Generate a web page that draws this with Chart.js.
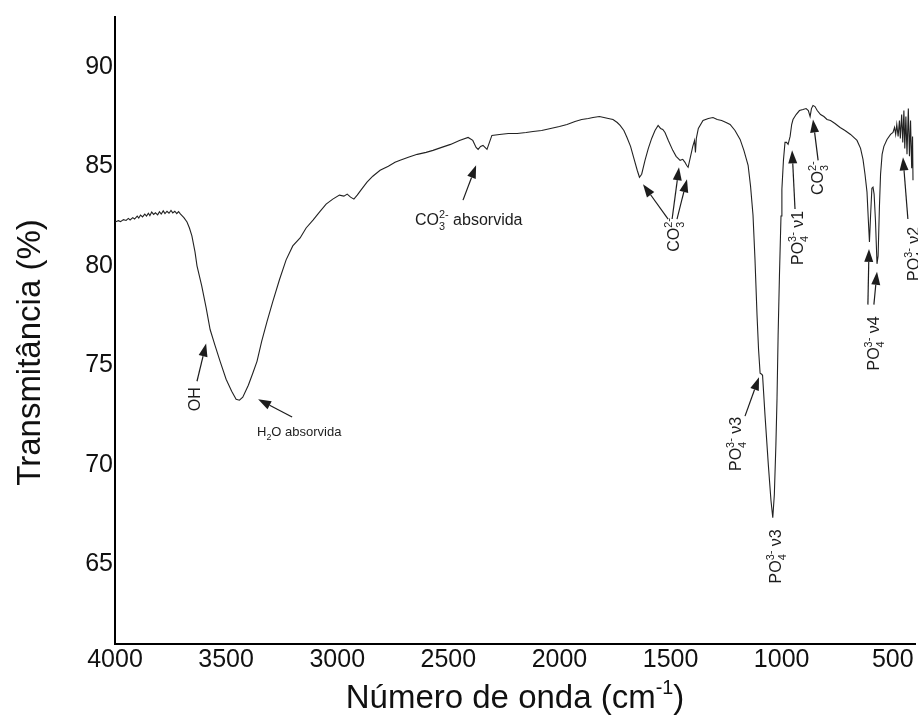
<!DOCTYPE html>
<html>
<head>
<meta charset="utf-8">
<script src="https://cdn.jsdelivr.net/npm/chart.js@4.4.0/dist/chart.umd.min.js"></script>
<style>
  html, body { margin: 0; padding: 0; background: #fff; }
  #wrap { width: 918px; height: 722px; }
</style>
</head>
<body>
<div id="wrap"><canvas id="ftir" width="918" height="722"></canvas></div>
<script>
// FTIR spectrum (cm-1 / %)
const waveNumbers = [
  4000, 3985, 3975, 3962, 3950, 3940, 3932, 3920, 3912, 3900, 3893, 3885, 3876, 3866, 3858, 3850,
  3843, 3835, 3826, 3818, 3808, 3800, 3792, 3783, 3775, 3766, 3757, 3748, 3740, 3731, 3722, 3714,
  3705, 3690,
  3676, 3665, 3654, 3640, 3631, 3610, 3590, 3572, 3550, 3527, 3500, 3475, 3455, 3440, 3425, 3400,
  3380, 3361, 3340, 3316, 3290, 3260, 3230, 3200, 3167, 3140, 3109, 3080, 3050, 3020, 2990, 2970,
  2955, 2940, 2925, 2910, 2890, 2866, 2840, 2807, 2770, 2740, 2717, 2680, 2640, 2600, 2569, 2530,
  2490, 2450, 2411, 2390, 2375, 2366, 2355, 2344, 2335, 2326, 2315, 2304, 2270, 2230, 2190, 2150,
  2119, 2080, 2040, 2000, 1966, 1930, 1900, 1870, 1849, 1820, 1800, 1780, 1759, 1740, 1727, 1710,
  1696, 1680, 1665, 1650, 1640, 1630, 1615, 1600, 1585, 1570, 1556, 1545, 1535, 1525, 1510, 1490,
  1475, 1457, 1445, 1435, 1428, 1421, 1410, 1400, 1392, 1388, 1384, 1375, 1354, 1330, 1309, 1290,
  1270, 1250, 1232, 1210, 1187, 1170, 1151, 1140, 1129, 1120, 1111, 1104, 1097, 1090, 1086, 1075,
  1060, 1048, 1040, 1033, 1026, 1021, 1016, 1010, 1003, 999, 992, 985, 978, 971, 962, 955,
  949, 935, 920, 904, 890, 880, 872, 866, 859, 850, 840, 825, 810, 796, 780, 760,
  737, 715, 690, 661, 645, 634, 625, 616, 610, 605, 600, 594, 589, 584, 578, 571,
  566, 560, 555, 548, 540, 526, 510, 499, 492, 487, 482, 476, 470, 466, 460, 455,
  450, 446, 441, 436, 430, 425, 420, 415, 411, 409
];
const transmittance = [
  82.2, 82.27, 82.22, 82.32, 82.28, 82.38, 82.3, 82.42, 82.35, 82.5, 82.4, 82.55, 82.46, 82.6, 82.5, 82.64,
  82.52, 82.7, 82.58, 82.66, 82.56, 82.72, 82.6, 82.76, 82.62, 82.74, 82.64, 82.78, 82.66, 82.74, 82.62, 82.72,
  82.6, 82.42,
  82.2, 81.9, 81.5, 80.7, 80.0, 79.0, 77.9, 76.8, 76.0, 75.2, 74.3, 73.7, 73.3, 73.25, 73.4, 74.0,
  74.6, 75.2, 76.2, 77.2, 78.2, 79.3, 80.3, 81.0, 81.4, 81.9, 82.3, 82.7, 83.1, 83.35, 83.55, 83.5,
  83.6, 83.45, 83.35, 83.55, 83.85, 84.2, 84.5, 84.8, 85.0, 85.2, 85.3, 85.45, 85.6, 85.7, 85.8, 85.95,
  86.1, 86.3, 86.45, 86.3, 85.95, 85.85, 86.0, 86.05, 85.95, 85.85, 86.2, 86.55, 86.6, 86.65, 86.65, 86.7,
  86.75, 86.8, 86.9, 87.0, 87.1, 87.25, 87.35, 87.4, 87.45, 87.5, 87.45, 87.4, 87.35, 87.2, 87.05, 86.8,
  86.45, 86.0, 85.4, 84.8, 84.45, 84.6, 85.3, 85.9, 86.4, 86.8, 87.05, 86.9, 86.85, 86.7, 86.3, 85.8,
  85.5, 85.3, 85.35, 85.2, 85.05, 84.95, 85.5, 86.0, 86.3, 85.7, 86.4, 86.9, 87.3, 87.4, 87.45, 87.35,
  87.3, 87.2, 87.1, 86.8, 86.35, 85.8, 85.05, 84.0, 82.55, 80.3, 77.55, 75.8, 74.6, 74.55, 74.5, 72.5,
  70.0, 68.2, 67.35, 68.5, 71.0, 73.3, 76.5, 79.5, 82.5, 83.85, 85.3, 86.2, 86.2, 86.1, 86.5, 87.1,
  87.35, 87.6, 87.8, 87.85, 87.9, 87.8, 87.5, 87.9, 88.05, 88.0, 87.8, 87.6, 87.5, 87.35, 87.3, 87.15,
  86.95, 86.8, 86.6, 86.3, 85.9, 85.35, 84.6, 83.7, 82.3, 81.2, 82.5, 83.9, 83.95, 83.6, 82.3, 80.1,
  80.5, 83.0, 84.6, 85.6, 86.0, 86.35, 86.6, 86.7, 86.95, 86.6, 87.1, 86.5, 87.3, 86.4, 87.6, 86.2,
  87.8, 85.9, 87.5, 85.6, 87.9, 85.5, 87.3, 84.9, 86.5, 84.3
];
const xTicks = [4000, 3500, 3000, 2500, 2000, 1500, 1000, 500];
const yTicks = [65, 70, 75, 80, 85, 90];

// band assignments: text pieces (string = normal, [sub, sup] = stacked scripts), anchor in data units
const PO4 = ['PO', ['4', '3-']];
const CO3 = ['CO', ['3', '2-']];
const bandLabels = [
  { parts: ['OH'], x: 3645, y: 73.3, rotate: true },
  { parts: ['H', ['2', null], 'O absorvida'], x: 3361, y: 71.7, left: true, small: true },
  { parts: [...CO3, ' absorvida'], x: 2650, y: 82.35, left: true },
  { parts: CO3, x: 1489, y: 81.55, rotate: true },
  { parts: [...PO4, ' \u03bd1'], x: 931, y: 81.4, rotate: true },
  { parts: CO3, x: 841, y: 84.4, rotate: true },
  { parts: [...PO4, ' \u03bd4'], x: 589, y: 76.1, rotate: true },
  { parts: [...PO4, ' \u03bd2'], x: 409, y: 80.6, rotate: true },
  { parts: [...PO4, ' \u03bd3'], x: 1210, y: 71.05, rotate: true },
  { parts: [...PO4, ' \u03bd3'], x: 1030, y: 65.4, rotate: true }
];
// arrows: [from cm-1, from %, to cm-1, to %]
const bandArrows = [
  [3631, 74.2, 3590, 76.1],
  [3203, 72.4, 3356, 73.3],
  [2434, 83.3, 2375, 85.05],
  [1511, 82.35, 1624, 84.1],
  [1493, 82.35, 1462, 84.95],
  [1471, 82.35, 1426, 84.35],
  [940, 82.85, 953, 85.8],
  [836, 85.3, 859, 87.35],
  [612, 78.05, 607, 80.85],
  [585, 78.05, 571, 79.7],
  [432, 82.35, 454, 85.45],
  [1165, 72.45, 1102, 74.4]
];

const FONT = '"Liberation Sans", Arial, sans-serif';
const INK = '#1c1c1c';
const SCRIPT = 0.68;

function partWidth(ctx, p, size) {
  if (typeof p === 'string') {
    ctx.font = size + 'px ' + FONT;
    return ctx.measureText(p).width;
  }
  ctx.font = (size * SCRIPT) + 'px ' + FONT;
  return Math.max(...p.filter(Boolean).map(s => ctx.measureText(s).width));
}

function drawRich(ctx, parts, size, x0, base) {
  let x = x0;
  parts.forEach(p => {
    const w = partWidth(ctx, p, size);
    if (typeof p === 'string') {
      ctx.fillText(p, x, base);
    } else {
      if (p[0]) ctx.fillText(p[0], x, base + size * 0.3);
      if (p[1]) ctx.fillText(p[1], x, base - size * 0.45);
    }
    x += w;
  });
}

function drawArrow(ctx, x1, y1, x2, y2) {
  const ang = Math.atan2(y2 - y1, x2 - x1);
  const len = 13, half = 4.5;
  const bx = x2 - len * Math.cos(ang), by = y2 - len * Math.sin(ang);
  ctx.lineWidth = 1.2;
  ctx.beginPath();
  ctx.moveTo(x1, y1);
  ctx.lineTo(bx, by);
  ctx.stroke();
  ctx.beginPath();
  ctx.moveTo(x2, y2);
  ctx.lineTo(bx + half * Math.sin(ang), by - half * Math.cos(ang));
  ctx.lineTo(bx - half * Math.sin(ang), by + half * Math.cos(ang));
  ctx.closePath();
  ctx.fill();
}

const bandNotes = {
  id: 'bandNotes',
  afterDatasetsDraw(chart) {
    const { ctx, scales: { x, y } } = chart;
    ctx.save();
    ctx.fillStyle = INK;
    ctx.strokeStyle = INK;
    ctx.textBaseline = 'alphabetic';
    ctx.textAlign = 'left';
    bandArrows.forEach(a => drawArrow(ctx,
      x.getPixelForValue(a[0]), y.getPixelForValue(a[1]),
      x.getPixelForValue(a[2]), y.getPixelForValue(a[3])));
    bandLabels.forEach(l => {
      const size = l.small ? 13 : 16;
      const px = x.getPixelForValue(l.x), py = y.getPixelForValue(l.y);
      const w = l.parts.reduce((s, p) => s + partWidth(ctx, p, size), 0);
      ctx.save();
      ctx.translate(px, py);
      if (l.rotate) ctx.rotate(-Math.PI / 2);
      drawRich(ctx, l.parts, size, l.left ? 0 : -w / 2, size * 0.36);
      ctx.restore();
    });
    ctx.restore();
  },
  afterDraw(chart) {
    const { ctx, chartArea } = chart;
    ctx.save();
    ctx.fillStyle = '#111';
    ctx.textBaseline = 'alphabetic';
    // x title with superscript
    const size = 33;
    const parts = ['N\u00famero de onda (cm', '-1', ')'];
    ctx.font = size + 'px ' + FONT;
    const w0 = ctx.measureText(parts[0]).width, w2 = ctx.measureText(parts[2]).width;
    ctx.font = (size * 0.6) + 'px ' + FONT;
    const w1 = ctx.measureText(parts[1]).width;
    const xs = (chartArea.left + chartArea.right) / 2 - (w0 + w1 + w2) / 2;
    const base = chart.height - 14;
    ctx.font = size + 'px ' + FONT;
    ctx.fillText(parts[0], xs, base);
    ctx.font = (size * 0.6) + 'px ' + FONT;
    ctx.fillText(parts[1], xs + w0, base - size * 0.42);
    ctx.font = size + 'px ' + FONT;
    ctx.fillText(parts[2], xs + w0 + w1, base);
    // y title
    ctx.translate(40, (chartArea.top + chartArea.bottom) / 2 + 22);
    ctx.rotate(-Math.PI / 2);
    ctx.textAlign = 'center';
    ctx.fillText('Transmit\u00e2ncia (%)', 0, 0);
    ctx.restore();
  }
};

new Chart(document.getElementById('ftir'), {
  type: 'line',
  data: {
    datasets: [{
      data: waveNumbers.map((v, i) => ({ x: v, y: transmittance[i] })),
      borderColor: '#222',
      borderWidth: 1.1,
      pointRadius: 0,
      tension: 0,
      fill: false
    }]
  },
  options: {
    responsive: false,
    animation: false,
    devicePixelRatio: 1,
    layout: { padding: { top: 13, right: 3, left: 0, bottom: 0 } },
    plugins: { legend: { display: false }, tooltip: { enabled: false } },
    scales: {
      x: {
        type: 'linear', reverse: true, min: 400, max: 4000,
        afterBuildTicks: s => { s.ticks = xTicks.map(v => ({ value: v })); },
        afterFit: s => { s.height = 78; },
        ticks: { font: { size: 25, family: FONT }, color: '#111', padding: 1, maxRotation: 0, autoSkip: false, callback: v => String(v) },
        grid: { display: false, drawTicks: false },
        border: { display: true, color: '#000', width: 2 }
      },
      y: {
        min: 61, max: 92.5,
        afterBuildTicks: s => { s.ticks = yTicks.map(v => ({ value: v })); },
        afterFit: s => { s.width = 115; },
        ticks: { font: { size: 25, family: FONT }, color: '#111', padding: 2, callback: v => String(v) },
        grid: { display: false, drawTicks: false },
        border: { display: true, color: '#000', width: 2 }
      }
    }
  },
  plugins: [bandNotes]
});
</script>
</body>
</html>
